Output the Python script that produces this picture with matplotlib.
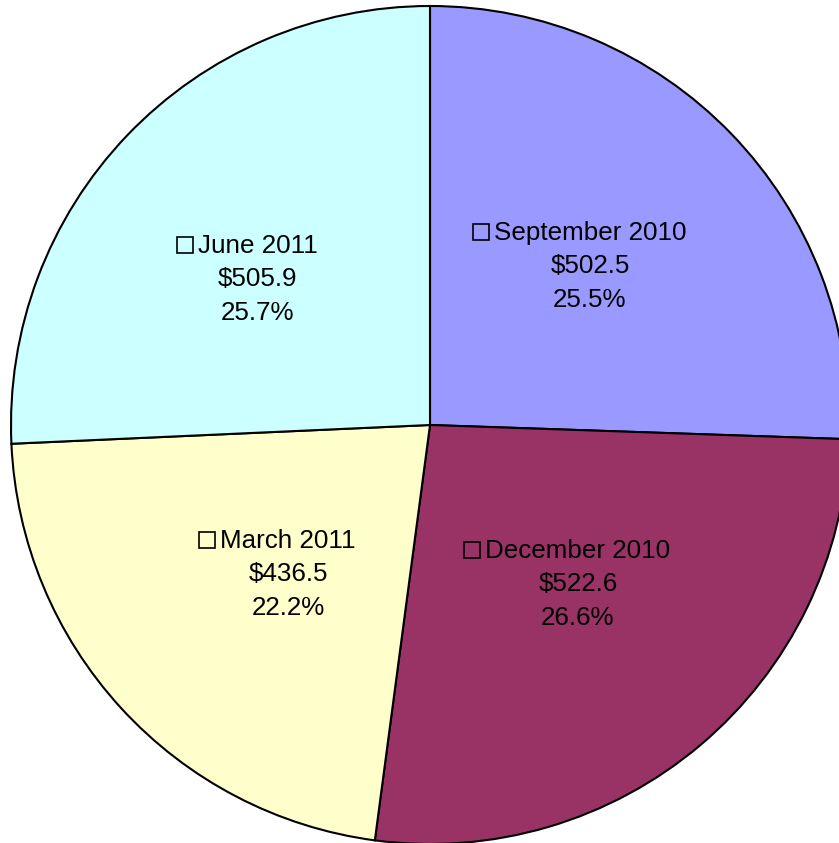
import numpy as np
import matplotlib
matplotlib.use("Agg")
import matplotlib.pyplot as plt
from matplotlib.patches import Rectangle

categories = ["September 2010", "December 2010", "March 2011", "June 2011"]
values = [502.5, 522.6, 436.5, 505.9]
colors = ["#9999FF", "#993366", "#FFFFCC", "#CCFFFF"]

# label placement tweaks (fraction of radius, angle shift in degrees)
label_dist = [0.542, 0.515, 0.488, 0.542]
label_shift = [1.2, 3.0, 3.5, 3.0]

W, H, DPI = 839, 843, 100
cx, cy, R = 430, 425, 419  # pixel geometry of pie
px = 1.0 / R  # one pixel in data units

fig = plt.figure(figsize=(W / DPI, H / DPI), dpi=DPI)
ax = fig.add_axes([0, 0, 1, 1])
wedges, _ = ax.pie(values, colors=colors, startangle=90, counterclock=False,
                   radius=1.0, wedgeprops=dict(edgecolor="black", linewidth=1.5))
ax.set_xlim(-cx / R, (W - cx) / R)
ax.set_ylim(-(H - cy) / R, cy / R)
ax.set_aspect("auto")
ax.axis("off")

FONT = ["Liberation Sans", "DejaVu Sans"]
FS = 18.7
LS = 33.5 * px
total = sum(values)
first_lines = []
for w, cat, v, d, sh in zip(wedges, categories, values, label_dist, label_shift):
    mid = np.deg2rad((w.theta1 + w.theta2) / 2 + sh)
    x, y = d * np.cos(mid), d * np.sin(mid)
    lines = [cat, f"${v:.1f}", f"{100 * v / total:.1f}%"]
    for i, s in enumerate(lines):
        yb = y + (1 - i) * LS - 9.3 * px
        t = ax.text(x, yb, s, ha="center", va="baseline", fontsize=FS, family=FONT)
        if i == 0:
            first_lines.append((t, yb))

fig.canvas.draw()
renderer = fig.canvas.get_renderer()
inv = ax.transData.inverted()
for t, yb in first_lines:
    bb = t.get_window_extent(renderer)
    left = inv.transform((bb.x0, 0))[0]
    size = 16 * px
    ax.add_patch(Rectangle((left - 5 * px - size, yb), size, size,
                           facecolor="none", edgecolor="black", linewidth=1.2))

fig.savefig("out.png", dpi=DPI)
